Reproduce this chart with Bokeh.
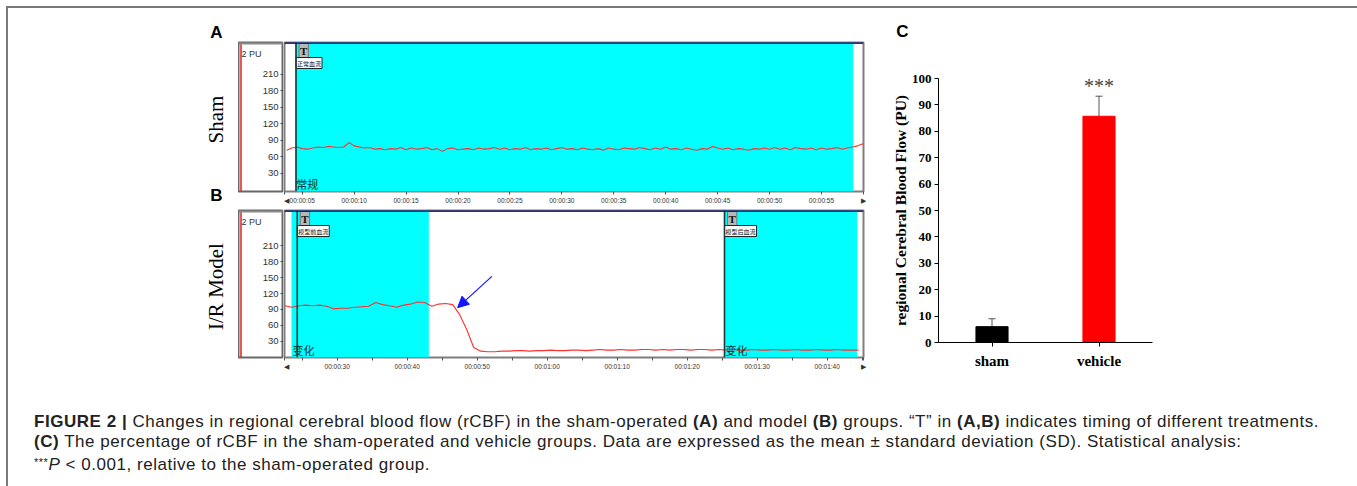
import numpy as np
from bokeh.plotting import figure
from bokeh.models import (Range1d, FixedTicker, LinearAxis, Span, BoxAnnotation,
                          Arrow, NormalHead, ColumnDataSource, Whisker, TeeHead, Div, FactorRange)
from bokeh.layouts import row, column
from bokeh.core.properties import value
from bokeh.embed import file_html
from bokeh.resources import INLINE

# ---------------- data ----------------
pu_ticks = [30, 60, 90, 120, 150, 180, 210]

# Panel A (sham): rCBF trace sampled every 0.5 s from t = 3.5 s
sham_t_start, sham_t_step = 3.5, 0.5
sham_rcbf = [72, 76, 78, 75, 74, 76, 78, 77, 79, 78,
             77, 78, 86, 80, 78, 76, 77, 74, 75, 73,
             75, 74, 77, 73, 76, 74, 75, 77, 73, 75,
             70, 75, 76, 73, 74, 75, 73, 76, 74, 75,
             77, 74, 76, 73, 75, 74, 77, 73, 75, 74,
             76, 73, 75, 77, 74, 75, 73, 76, 74, 73,
             75, 72, 76, 74, 73, 76, 75, 74, 77, 75,
             73, 76, 74, 78, 74, 75, 73, 76, 74, 72,
             75, 74, 79, 76, 74, 76, 73, 75, 74, 72,
             75, 74, 76, 74, 77, 74, 76, 73, 77, 75,
             74, 76, 73, 76, 74, 75, 77, 74, 76, 78,
             80, 84]
sham_x_range = (3.29, 59.05)
sham_y_range = (-3, 268)
sham_cyan_start = [4.32]
sham_cyan_end = [58.06]
sham_marker_t = [4.4]
sham_marker_label = ["正常血流"]
sham_state_label = ["常规"]
sham_tick_s = [5, 10, 15, 20, 25, 30, 35, 40, 45, 50, 55]
sham_tick_labels = ["00:00:05", "00:00:10", "00:00:15", "00:00:20", "00:00:25", "00:00:30",
                    "00:00:35", "00:00:40", "00:00:45", "00:00:50", "00:00:55"]
sham_minor_s = []

# Panel B (I/R model): rCBF trace sampled every 1 s from t = 22.5 s
model_t_start, model_t_step = 22.5, 1.0
model_rcbf = [97, 94, 97, 98, 97, 98, 96, 91, 92, 92,
              94, 95, 96, 103, 99, 97, 94, 98, 100, 104,
              103, 96, 100, 101, 99, 80, 52, 18, 11, 10,
              10, 11, 11, 12, 12, 11, 12, 12, 13, 12,
              12, 13, 13, 12, 13, 14, 13, 13, 14, 13,
              13, 14, 14, 13, 14, 13, 14, 14, 13, 14,
              14, 13, 14, 13, 14, 13, 13, 14, 13, 13,
              14, 13, 13, 14, 13, 13, 14, 13, 13, 14,
              13, 13, 13]
model_x_range = (22.47, 105.19)
model_y_range = (-1, 277)
model_cyan_start = [23.47, 85.33]
model_cyan_end = [43.09, 104.29]
model_marker_t = [24.29, 85.33]
model_marker_label = ["模型前血流", "模型后血流"]
model_state_label = ["变化", "变化"]
model_tick_s = [30, 40, 50, 60, 70, 80, 90, 100]
model_tick_labels = ["00:00:30", "00:00:40", "00:00:50", "00:01:00",
                     "00:01:10", "00:01:20", "00:01:30", "00:01:40"]
model_minor_s = [25, 35, 45, 55, 65, 75, 85, 95, 105]
model_arrow_from = (52.1, 152.5)
model_arrow_to = (47.2, 93.3)

# Panel C
groups = ["sham", "vehicle"]
rcbf_mean = [6.0, 85.7]
rcbf_sd = [3.0, 7.6]
bar_colors = ["#000000", "#FF0000"]
c_ticks = [0, 10, 20, 30, 40, 50, 60, 70, 80, 90, 100]

# panel letters / row titles (layout positions in px within the label strips)
strip_texts = ["A", "B"]
strip_text_x = [208, 208]
strip_text_y = [24, 187]
row_titles = ["Sham", "I/R Model"]
row_title_x = [207, 207]
row_title_y = [111, 278]
c_letter_x, c_letter_y = [36], [23]

SERIF = "Liberation Serif"
SANS = "Liberation Sans"
CJK = "Noto Sans CJK SC"

TOP_H = 367
C_HEAD_H = 40

# ---------------- left strip with panel letters ----------------
strip = figure(width=230, height=TOP_H, x_range=Range1d(0, 230), y_range=Range1d(TOP_H, 0),
               x_axis_type=None, y_axis_type=None, toolbar_location=None,
               output_backend="svg", min_border=0)
strip.outline_line_color = None
strip.grid.visible = False
strip.text(x=strip_text_x, y=strip_text_y, text=strip_texts, text_align="center",
           text_baseline="middle", text_font=value(SANS), text_font_style="bold",
           text_font_size="17px", text_color="black")
strip.text(x=row_title_x, y=row_title_y, text=row_titles, angle=np.pi / 2,
           text_align="center", text_baseline="middle", text_font=value(SERIF),
           text_font_size="21px", text_color="black")


def trace_panel(t_start, t_step, vals, xr, yr, cyan_s, cyan_e, mk_t, mk_lab, state_lab,
                ticks, tick_labels, minor, height, top, bottom, arrow=None):
    times = t_start + t_step * np.arange(len(vals))

    # ---- the "2 PU" scale box ----
    box = figure(width=45, height=height, x_range=Range1d(0, 45), y_range=Range1d(*yr),
                 x_axis_type=None, y_axis_type=None, toolbar_location=None,
                 output_backend="svg", min_border_left=0, min_border_right=0,
                 min_border_top=top, min_border_bottom=bottom)
    box.outline_line_color = "#686868"
    box.outline_line_width = 2
    ax = LinearAxis(fixed_location=45, ticker=FixedTicker(ticks=pu_ticks))
    ax.axis_line_color = None
    ax.major_tick_out = 3
    ax.major_tick_in = 0
    ax.major_tick_line_color = "#444444"
    ax.minor_tick_out = 0
    ax.minor_tick_in = 0
    ax.major_label_standoff = 2
    ax.major_label_text_font = SANS
    ax.major_label_text_font_size = "9.5px"
    ax.major_label_text_color = "#333333"
    box.add_layout(ax, "left")
    box.add_layout(Span(location=2.5, dimension="height", line_color="#E02020", line_width=1.5))
    box.add_layout(Span(location=yr[1], dimension="width", line_color="#8a8a8a", line_width=4))
    box.text(x=[3], y=[yr[1]], text=["2 PU"], x_offset=0, y_offset=6, text_align="left",
             text_baseline="top", text_font=value(SANS), text_font_size="9px",
             text_color="#333333")

    # ---- the recording ----
    main = figure(width=583, height=height, x_range=Range1d(*xr), y_range=Range1d(*yr),
                  x_axis_type=None, y_axis_type=None, toolbar_location=None,
                  output_backend="svg", min_border_left=1, min_border_right=3,
                  min_border_top=top, min_border_bottom=bottom)
    main.outline_line_color = "#7f7f7f"
    main.outline_line_width = 2
    for s, e in zip(cyan_s, cyan_e):
        main.add_layout(BoxAnnotation(left=s, right=e, fill_color="#00FFFF", fill_alpha=1.0,
                                      line_color=None, level="underlay"))
    for t in mk_t:
        main.add_layout(Span(location=t, dimension="height", line_color="#1d3b3b",
                             line_width=1.6))
    main.line(times, vals, line_color="#FF3030", line_width=1.1)
    main.add_layout(Span(location=yr[1], dimension="width", line_color="#00006e",
                         line_width=2.5))
    m = len(mk_t)
    main.text(x=mk_t, y=[yr[1]] * m, text=["T"] * m, x_offset=3, y_offset=1,
              text_align="left", text_baseline="top", text_font=value(SERIF),
              text_font_style="bold", text_font_size="11px", text_color="#111111",
              background_fill_color="#B8B8B8", border_line_color="#777777",
              border_line_width=1, padding=1)
    main.text(x=mk_t, y=[yr[1]] * m, text=mk_lab, x_offset=0, y_offset=15,
              text_align="left", text_baseline="top", text_font=value(CJK),
              text_font_size="6px", text_color="#111111",
              background_fill_color="white", border_line_color="#222222",
              border_line_width=1, padding=1)
    main.text(x=cyan_s, y=[yr[0]] * m, text=state_lab, x_offset=1, y_offset=0,
              text_align="left", text_baseline="bottom", text_font=value(CJK),
              text_font_size="11px", text_color="#0b2e2e")
    if arrow is not None:
        (x0, y0), (x1, y1) = arrow
        main.add_layout(Arrow(end=NormalHead(size=11, fill_color="#1414FF", line_color="#1414FF"),
                              x_start=x0, y_start=y0, x_end=x1, y_end=y1,
                              line_color="#1414FF", line_width=1.2))

    all_ticks = [xr[0]] + ticks + [xr[1]]
    overrides = dict(zip(ticks, tick_labels))
    overrides[xr[0]] = "◀"
    overrides[xr[1]] = "▶"
    xa = LinearAxis(ticker=FixedTicker(ticks=all_ticks, minor_ticks=minor),
                    major_label_overrides=overrides)
    xa.axis_line_color = None
    xa.major_tick_in = 0
    xa.major_tick_out = 3
    xa.minor_tick_in = 0
    xa.minor_tick_out = 3
    xa.major_tick_line_color = "#555555"
    xa.minor_tick_line_color = "#555555"
    xa.major_label_standoff = 2
    xa.major_label_text_font = SANS
    xa.major_label_text_font_size = "6.5px"
    xa.major_label_text_color = "#333333"
    main.add_layout(xa, "below")
    return row(box, main)


rowA = trace_panel(sham_t_start, sham_t_step, sham_rcbf, sham_x_range, sham_y_range,
                   sham_cyan_start, sham_cyan_end, sham_marker_t, sham_marker_label,
                   sham_state_label, sham_tick_s, sham_tick_labels, sham_minor_s,
                   height=200, top=34, bottom=17)
rowB = trace_panel(model_t_start, model_t_step, model_rcbf, model_x_range, model_y_range,
                   model_cyan_start, model_cyan_end, model_marker_t, model_marker_label,
                   model_state_label, model_tick_s, model_tick_labels, model_minor_s,
                   height=167, top=2, bottom=18, arrow=(model_arrow_from, model_arrow_to))

# ---------------- panel C ----------------
c_head = figure(width=488, height=C_HEAD_H, x_range=Range1d(0, 488), y_range=Range1d(C_HEAD_H, 0),
                x_axis_type=None, y_axis_type=None, toolbar_location=None,
                output_backend="svg", min_border=0)
c_head.outline_line_color = None
c_head.grid.visible = False
c_head.text(x=c_letter_x, y=c_letter_y, text=["C"], text_align="center", text_baseline="middle",
            text_font=value(SANS), text_font_style="bold", text_font_size="17px",
            text_color="black")

src = ColumnDataSource(dict(group=groups, mean=rcbf_mean,
                            upper=[mu + sd for mu, sd in zip(rcbf_mean, rcbf_sd)],
                            color=bar_colors))
c = figure(width=488, height=TOP_H - C_HEAD_H, x_range=FactorRange(factors=groups),
           y_range=Range1d(0, 100), toolbar_location=None, output_backend="svg",
           min_border_left=72, min_border_right=202, min_border_top=30, min_border_bottom=33)
c.vbar(x="group", top="mean", width=0.3, fill_color="color", line_color="color", source=src)
c.add_layout(Whisker(source=src, base="group", upper="upper", lower="mean", lower_head=None,
                     upper_head=TeeHead(size=7, line_color="#555555", line_width=1),
                     line_color="#555555", line_width=1))
c.text(x=[groups[1]], y=[src.data["upper"][1]], text=["***"], x_offset=0, y_offset=-10,
       text_align="center", text_baseline="alphabetic", text_font=value(SERIF),
       text_font_size="20px", text_color="#444444")
c.xgrid.visible = False
c.ygrid.visible = False
c.outline_line_color = None
c.yaxis.ticker = FixedTicker(ticks=c_ticks)
c.yaxis.axis_label = "regional Cerebral Blood Flow (PU)"
c.yaxis.axis_label_text_font = SERIF
c.yaxis.axis_label_text_font_style = "bold"
c.yaxis.axis_label_text_font_size = "15.5px"
c.yaxis.axis_label_standoff = 0
c.yaxis.major_label_text_font = SERIF
c.yaxis.major_label_text_font_style = "bold"
c.yaxis.major_label_text_font_size = "13px"
c.yaxis.major_label_standoff = 3
c.yaxis.major_tick_out = 4
c.yaxis.major_tick_in = 0
c.yaxis.minor_tick_out = 0
c.yaxis.minor_tick_in = 0
c.xaxis.major_label_text_font = SERIF
c.xaxis.major_label_text_font_style = "bold"
c.xaxis.major_label_text_font_size = "15px"
c.xaxis.major_label_standoff = 6
c.xaxis.major_tick_out = 4
c.xaxis.major_tick_in = 0
for a in (c.xaxis[0], c.yaxis[0]):
    a.axis_line_color = "black"
    a.major_tick_line_color = "black"
    a.major_label_text_color = "black"
    a.axis_label_text_color = "black"

# ---------------- caption ----------------
caption_html = (
    '<div style="padding:32px 0 0 21px; font-family:\'Liberation Sans\'; font-size:17px; '
    'letter-spacing:0.53px; line-height:20px; color:#222; white-space:nowrap;">'
    '<b>FIGURE 2 |</b> Changes in regional cerebral blood flow (rCBF) in the sham-operated '
    '<b>(A)</b> and model <b>(B)</b> groups. \u201cT\u201d in <b>(A,B)</b> indicates timing of '
    'different treatments.<br>'
    '<b>(C)</b> The percentage of rCBF in the sham-operated and vehicle groups. Data are '
    'expressed as the mean \u00b1 standard deviation (SD). Statistical analysis:<br>'
    '<span style="font-size:11px; vertical-align:4px;">***</span><i>P</i> &lt; 0.001, '
    'relative to the sham-operated group.</div>')
cap = Div(text=caption_html, width=1346, height=101)

top_row = row(column(strip), column(rowA, rowB), column(column(c_head), column(c)))
root = column(top_row, cap,
              styles={"border-top": "2px solid #7a7a7a", "border-left": "2px solid #7a7a7a",
                      "border-right": "2px solid #7a7a7a", "margin-top": "6px",
                      "margin-left": "6px"})

open("out.html", "w").write(file_html(root, INLINE))
